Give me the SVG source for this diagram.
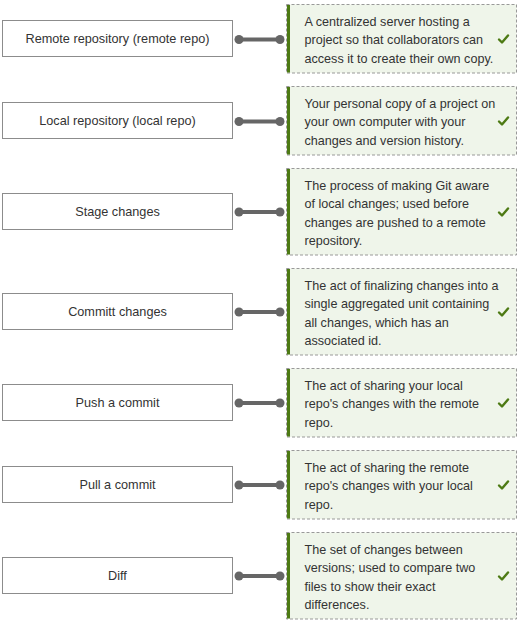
<svg xmlns="http://www.w3.org/2000/svg" width="520" height="627" viewBox="0 0 520 627">
  <style>
    .term rect { fill: #ffffff; stroke: #8c8c8c; stroke-width: 1; }
    .term text { font-family: "Liberation Sans", Arial, sans-serif; font-size: 12.7px; fill: #333333; text-anchor: middle; }
    .def .card { fill: #eff5ea; stroke: #999999; stroke-width: 1; stroke-dasharray: 3 2; }
    .def .bar { fill: #4d7a14; }
    .def text { font-family: "Liberation Sans", Arial, sans-serif; font-size: 12.6px; fill: #333333; }
    .def .tick { fill: none; stroke: #4d7a14; stroke-width: 2.4; stroke-linecap: round; stroke-linejoin: round; }
    #connectors line { stroke: #666666; stroke-width: 4; }
    #connectors circle { fill: #666666; }
  </style>

  <!-- terms -->
  <g id="term-remote-repo" class="term">
    <rect x="2.5" y="20.5" width="230" height="36"/>
    <text x="117.5" y="43">Remote repository (remote repo)</text>
  </g>
  <g id="term-local-repo" class="term">
    <rect x="2.5" y="102.5" width="230" height="36"/>
    <text x="117.5" y="125">Local repository (local repo)</text>
  </g>
  <g id="term-stage" class="term">
    <rect x="2.5" y="193.5" width="230" height="36"/>
    <text x="117.5" y="216">Stage changes</text>
  </g>
  <g id="term-commit" class="term">
    <rect x="2.5" y="293.5" width="230" height="36"/>
    <text x="117.5" y="316">Committ changes</text>
  </g>
  <g id="term-push" class="term">
    <rect x="2.5" y="384.5" width="230" height="36"/>
    <text x="117.5" y="407">Push a commit</text>
  </g>
  <g id="term-pull" class="term">
    <rect x="2.5" y="466.5" width="230" height="36"/>
    <text x="117.5" y="489">Pull a commit</text>
  </g>
  <g id="term-diff" class="term">
    <rect x="2.5" y="557.5" width="230" height="36"/>
    <text x="117.5" y="580">Diff</text>
  </g>

  <!-- definitions -->
  <g id="def-remote-repo" class="def">
    <rect class="card" x="286.5" y="4.5" width="230" height="68.5"/>
    <rect class="bar" x="287" y="5" width="3" height="67.5"/>
    <text x="304.5"><tspan x="304.5" y="26">A centralized server hosting a</tspan><tspan x="304.5" y="44.3">project so that collaborators can</tspan><tspan x="304.5" y="62.6">access it to create their own copy.</tspan></text>
    <path class="tick" d="M499,39.5 l3,3 l6,-7"/>
  </g>
  <g id="def-local-repo" class="def">
    <rect class="card" x="286.5" y="86.5" width="230" height="68.5"/>
    <rect class="bar" x="287" y="87" width="3" height="67.5"/>
    <text x="304.5"><tspan x="304.5" y="108">Your personal copy of a project on</tspan><tspan x="304.5" y="126.3">your own computer with your</tspan><tspan x="304.5" y="144.6">changes and version history.</tspan></text>
    <path class="tick" d="M499,121.5 l3,3 l6,-7"/>
  </g>
  <g id="def-stage" class="def">
    <rect class="card" x="286.5" y="168.5" width="230" height="86.5"/>
    <rect class="bar" x="287" y="169" width="3" height="85.5"/>
    <text x="304.5"><tspan x="304.5" y="190">The process of making Git aware</tspan><tspan x="304.5" y="208.3">of local changes; used before</tspan><tspan x="304.5" y="226.6">changes are pushed to a remote</tspan><tspan x="304.5" y="244.9">repository.</tspan></text>
    <path class="tick" d="M499,212.5 l3,3 l6,-7"/>
  </g>
  <g id="def-commit" class="def">
    <rect class="card" x="286.5" y="268.5" width="230" height="86.5"/>
    <rect class="bar" x="287" y="269" width="3" height="85.5"/>
    <text x="304.5"><tspan x="304.5" y="290">The act of finalizing changes into a</tspan><tspan x="304.5" y="308.3">single aggregated unit containing</tspan><tspan x="304.5" y="326.6">all changes, which has an</tspan><tspan x="304.5" y="344.9">associated id.</tspan></text>
    <path class="tick" d="M499,312.5 l3,3 l6,-7"/>
  </g>
  <g id="def-push" class="def">
    <rect class="card" x="286.5" y="368.5" width="230" height="68.5"/>
    <rect class="bar" x="287" y="369" width="3" height="67.5"/>
    <text x="304.5"><tspan x="304.5" y="390">The act of sharing your local</tspan><tspan x="304.5" y="408.3">repo's changes with the remote</tspan><tspan x="304.5" y="426.6">repo.</tspan></text>
    <path class="tick" d="M499,403.5 l3,3 l6,-7"/>
  </g>
  <g id="def-pull" class="def">
    <rect class="card" x="286.5" y="450.5" width="230" height="68.5"/>
    <rect class="bar" x="287" y="451" width="3" height="67.5"/>
    <text x="304.5"><tspan x="304.5" y="472">The act of sharing the remote</tspan><tspan x="304.5" y="490.3">repo's changes with your local</tspan><tspan x="304.5" y="508.6">repo.</tspan></text>
    <path class="tick" d="M499,485.5 l3,3 l6,-7"/>
  </g>
  <g id="def-diff" class="def">
    <rect class="card" x="286.5" y="532.5" width="230" height="86.5"/>
    <rect class="bar" x="287" y="533" width="3" height="85.5"/>
    <text x="304.5"><tspan x="304.5" y="554">The set of changes between</tspan><tspan x="304.5" y="572.3">versions; used to compare two</tspan><tspan x="304.5" y="590.6">files to show their exact</tspan><tspan x="304.5" y="608.9">differences.</tspan></text>
    <path class="tick" d="M499,576.5 l3,3 l6,-7"/>
  </g>

  <!-- connectors: term -> definition -->
  <g id="connectors">
    <line x1="239" y1="39.5" x2="280" y2="39.5"/><circle cx="239" cy="39.5" r="4.5"/><circle cx="280" cy="39.5" r="4.5"/>
    <line x1="239" y1="121.5" x2="280" y2="121.5"/><circle cx="239" cy="121.5" r="4.5"/><circle cx="280" cy="121.5" r="4.5"/>
    <line x1="239" y1="212" x2="280" y2="212"/><circle cx="239" cy="212" r="4.5"/><circle cx="280" cy="212" r="4.5"/>
    <line x1="239" y1="312" x2="280" y2="312"/><circle cx="239" cy="312" r="4.5"/><circle cx="280" cy="312" r="4.5"/>
    <line x1="239" y1="403" x2="280" y2="403"/><circle cx="239" cy="403" r="4.5"/><circle cx="280" cy="403" r="4.5"/>
    <line x1="239" y1="485" x2="280" y2="485"/><circle cx="239" cy="485" r="4.5"/><circle cx="280" cy="485" r="4.5"/>
    <line x1="239" y1="576" x2="280" y2="576"/><circle cx="239" cy="576" r="4.5"/><circle cx="280" cy="576" r="4.5"/>
  </g>
</svg>
